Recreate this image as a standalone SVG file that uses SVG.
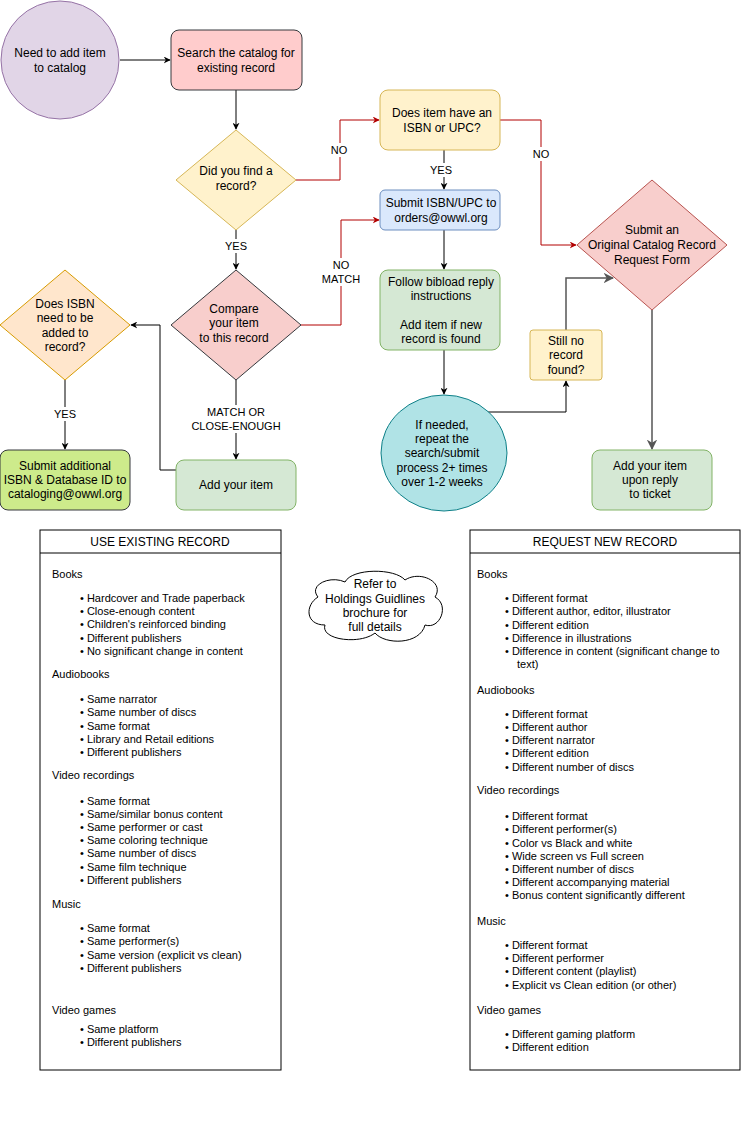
<svg xmlns="http://www.w3.org/2000/svg" width="746" height="1123" viewBox="0 0 746 1123">
<style>
text{font-family:"Liberation Sans",Arial,sans-serif;font-size:12px;fill:#000}
.c{text-anchor:middle}
.l{font-size:11px}
.lb{font-size:11px;text-anchor:middle}
.e{fill:none;stroke:#000;stroke-width:1}
.r{fill:none;stroke:#b20000;stroke-width:1}
.g{fill:none;stroke:#555;stroke-width:1.5}
</style>
<defs>
<marker id="a" viewBox="0 0 10 10" refX="9" refY="5" markerWidth="7" markerHeight="7" orient="auto"><path d="M0,0L10,5L0,10L3,5z" fill="#000"/></marker>
<marker id="ar" viewBox="0 0 10 10" refX="9" refY="5" markerWidth="7" markerHeight="7" orient="auto"><path d="M0,0L10,5L0,10L3,5z" fill="#b20000"/></marker>
<marker id="ag" viewBox="0 0 10 10" refX="9" refY="5" markerWidth="7" markerHeight="7" orient="auto"><path d="M0,0L10,5L0,10L3,5z" fill="#555"/></marker>
</defs>
<rect width="746" height="1123" fill="#fff"/>
<g id="connectors">
<path class="e" d="M120,60H170" marker-end="url(#a)"/>
<path class="e" d="M236,90V129" marker-end="url(#a)"/>
<path class="r" d="M296,180H340V120H379" marker-end="url(#ar)"/>
<rect x="329" y="143" width="20" height="14" fill="#fff"/><text class="lb" x="339" y="154">NO</text>
<path class="e" d="M444,150V189" marker-end="url(#a)"/>
<rect x="430" y="163" width="28" height="14" fill="#fff"/><text class="lb" x="441" y="174">YES</text>
<path class="r" d="M500,120H541V245H576" marker-end="url(#ar)"/>
<rect x="531" y="147" width="20" height="14" fill="#fff"/><text class="lb" x="541" y="158">NO</text>
<path class="e" d="M236,230V269" marker-end="url(#a)"/>
<rect x="222" y="239" width="28" height="14" fill="#fff"/><text class="lb" x="236" y="250">YES</text>
<path class="r" d="M301,325H341V220H379" marker-end="url(#ar)"/>
<rect x="320" y="258" width="42" height="28" fill="#fff"/><text class="lb" x="341" y="269">NO</text><text class="lb" x="341" y="283">MATCH</text>
<path class="e" d="M444,230V269" marker-end="url(#a)"/>
<path class="e" d="M444,350V394" marker-end="url(#a)"/>
<path class="e" d="M484,412H566V381" marker-end="url(#a)"/>
<path class="g" d="M566,330V278H613" marker-end="url(#ag)"/>
<path class="g" d="M652,310V449" marker-end="url(#ag)"/>
<path class="e" d="M236,380V459" marker-end="url(#a)"/>
<rect x="190" y="405" width="92" height="28" fill="#fff"/><text class="lb" x="236" y="416">MATCH OR</text><text class="lb" x="236" y="430">CLOSE-ENOUGH</text>
<path class="e" d="M176,470H160V325H131" marker-end="url(#a)"/>
<path class="e" d="M65,380V449" marker-end="url(#a)"/>
<rect x="51" y="407" width="28" height="14" fill="#fff"/><text class="lb" x="65" y="418">YES</text>
</g>
<g id="start"><ellipse cx="60" cy="60" rx="59" ry="59" fill="#e1d5e7" stroke="#9673a6"/><text class="c" x="60" y="57">Need to add item</text><text class="c" x="60" y="72">to catalog</text></g>
<g id="search"><rect x="171" y="30" width="131" height="60" rx="8" fill="#ffcccc" stroke="#36393d"/><text class="c" x="236" y="57">Search the catalog for</text><text class="c" x="236" y="72">existing record</text></g>
<g id="found"><path d="M236,130L296,180L236,230L176,180z" fill="#fff2cc" stroke="#d6b656"/><text class="c" x="236" y="175">Did you find a</text><text class="c" x="236" y="190">record?</text></g>
<g id="isbn"><rect x="380" y="90" width="120" height="60" rx="8" fill="#fff2cc" stroke="#d6b656"/><text class="c" x="442" y="117">Does item have an</text><text class="c" x="442" y="132">ISBN or UPC?</text></g>
<g id="submit"><rect x="380" y="190" width="120" height="40" rx="5" fill="#dae8fc" stroke="#6c8ebf"/><text class="c" x="441" y="207">Submit ISBN/UPC to</text><text class="c" x="441" y="222">orders@owwl.org</text></g>
<g id="original"><path d="M652,180L727,245L652,310L577,245z" fill="#f8cecc" stroke="#b85450"/><text class="c" x="652" y="234">Submit an</text><text class="c" x="652" y="249">Original Catalog Record</text><text class="c" x="652" y="264">Request Form</text></g>
<g id="compare"><path d="M236,270L301,325L236,380L171,325z" fill="#f8cecc" stroke="#36393d"/><text class="c" x="234" y="313">Compare</text><text class="c" x="234" y="327">your item</text><text class="c" x="234" y="342">to this record</text></g>
<g id="follow"><rect x="380" y="270" width="120" height="80" rx="8" fill="#d5e8d4" stroke="#82b366"/><text class="c" x="441" y="286">Follow bibload reply</text><text class="c" x="441" y="300">instructions</text><text class="c" x="441" y="329">Add item if new</text><text class="c" x="441" y="343">record is found</text></g>
<g id="repeat"><ellipse cx="444" cy="453" rx="63" ry="58" fill="#b0e3e6" stroke="#0e8088"/><text class="c" x="442" y="429">If needed,</text><text class="c" x="442" y="443">repeat the</text><text class="c" x="442" y="457">search/submit</text><text class="c" x="442" y="472">process 2+ times</text><text class="c" x="442" y="486">over 1-2 weeks</text></g>
<g id="still"><rect x="530" y="330" width="72" height="50" rx="3" fill="#fff2cc" stroke="#d6b656"/><text class="c" x="566" y="345">Still no</text><text class="c" x="566" y="359">record</text><text class="c" x="566" y="374">found?</text></g>
<g id="addreply"><rect x="592" y="450" width="120" height="60" rx="8" fill="#d5e8d4" stroke="#82b366"/><text class="c" x="650" y="470">Add your item</text><text class="c" x="650" y="484">upon reply</text><text class="c" x="650" y="498">to ticket</text></g>
<g id="additem"><rect x="176" y="460" width="120" height="50" rx="8" fill="#d5e8d4" stroke="#82b366"/><text class="c" x="236" y="489">Add your item</text></g>
<g id="needisbn"><path d="M65,270L130,325L65,380L0,325z" fill="#ffe6cc" stroke="#d79b00"/><text class="c" x="65" y="308">Does ISBN</text><text class="c" x="65" y="322">need to be</text><text class="c" x="65" y="337">added to</text><text class="c" x="65" y="351">record?</text></g>
<g id="additional"><rect x="0" y="450" width="130" height="60" rx="8" fill="#cdeb8b" stroke="#36393d"/><text class="c" x="65" y="470">Submit additional</text><text class="c" x="65" y="484">ISBN &amp;  Database ID to</text><text class="c" x="65" y="498">cataloging@owwl.org</text></g>
<g id="cloud"><path d="M318,597C308,585 330,575 345,582C352,568 395,568 405,580C420,570 445,582 435,597C450,605 440,630 425,625C420,645 385,645 375,633C360,645 320,640 325,625C305,625 305,605 318,597z" fill="#fff" stroke="#000"/><text class="c" x="375" y="588">Refer to</text><text class="c" x="375" y="603">Holdings Guidlines</text><text class="c" x="375" y="617">brochure for</text><text class="c" x="375" y="631">full details</text></g>
<g id="use-existing">
<rect x="40" y="530" width="241" height="540" fill="#fff" stroke="#000"/><path d="M40,553H281" stroke="#000"/>
<text class="c" x="160" y="546">USE EXISTING RECORD</text>
<g class="l">
<text class="l" x="52" y="578">Books</text>
<text class="l" x="80" y="602">•  Hardcover and Trade paperback</text>
<text class="l" x="80" y="615">•  Close-enough content</text>
<text class="l" x="80" y="628">•  Children's reinforced binding</text>
<text class="l" x="80" y="642">•  Different publishers</text>
<text class="l" x="80" y="655">•  No significant change in content</text>
<text class="l" x="52" y="678">Audiobooks</text>
<text class="l" x="80" y="703">•  Same narrator</text>
<text class="l" x="80" y="716">•  Same number of discs</text>
<text class="l" x="80" y="730">•  Same format</text>
<text class="l" x="80" y="743">•  Library and Retail editions</text>
<text class="l" x="80" y="756">•  Different publishers</text>
<text class="l" x="52" y="779">Video recordings</text>
<text class="l" x="80" y="805">•  Same format</text>
<text class="l" x="80" y="818">•  Same/similar bonus content</text>
<text class="l" x="80" y="831">•  Same performer or cast</text>
<text class="l" x="80" y="844">•  Same coloring technique</text>
<text class="l" x="80" y="857">•  Same number of discs</text>
<text class="l" x="80" y="871">•  Same film technique</text>
<text class="l" x="80" y="884">•  Different publishers</text>
<text class="l" x="52" y="908">Music</text>
<text class="l" x="80" y="932">•  Same format</text>
<text class="l" x="80" y="945">•  Same performer(s)</text>
<text class="l" x="80" y="959">•  Same version (explicit vs clean)</text>
<text class="l" x="80" y="972">•  Different publishers</text>
<text class="l" x="52" y="1014">Video games</text>
<text class="l" x="80" y="1033">•  Same platform</text>
<text class="l" x="80" y="1046">•  Different publishers</text>
</g></g>
<g id="request-new">
<rect x="470" y="530" width="270" height="540" fill="#fff" stroke="#000"/><path d="M470,553H740" stroke="#000"/>
<text class="c" x="605" y="546">REQUEST NEW RECORD</text>
<text class="l" x="477" y="578">Books</text>
<text class="l" x="505" y="602">•  Different format</text>
<text class="l" x="505" y="615">•  Different author, editor, illustrator</text>
<text class="l" x="505" y="629">•  Different edition</text>
<text class="l" x="505" y="642">•  Difference in illustrations</text>
<text class="l" x="505" y="655">•  Difference in content (significant change to</text>
<text class="l" x="517" y="668">text)</text>
<text class="l" x="477" y="694">Audiobooks</text>
<text class="l" x="505" y="718">•  Different format</text>
<text class="l" x="505" y="731">•  Different author</text>
<text class="l" x="505" y="744">•  Different narrator</text>
<text class="l" x="505" y="757">•  Different edition</text>
<text class="l" x="505" y="771">•  Different number of discs</text>
<text class="l" x="477" y="794">Video recordings</text>
<text class="l" x="505" y="820">•  Different format</text>
<text class="l" x="505" y="833">•  Different performer(s)</text>
<text class="l" x="505" y="847">•  Color vs Black and white</text>
<text class="l" x="505" y="860">•  Wide screen vs Full screen</text>
<text class="l" x="505" y="873">•  Different number of discs</text>
<text class="l" x="505" y="886">•  Different accompanying material</text>
<text class="l" x="505" y="899">•  Bonus content significantly different</text>
<text class="l" x="477" y="925">Music</text>
<text class="l" x="505" y="949">•  Different format</text>
<text class="l" x="505" y="962">•  Different performer</text>
<text class="l" x="505" y="975">•  Different content (playlist)</text>
<text class="l" x="505" y="989">•  Explicit vs Clean edition (or other)</text>
<text class="l" x="477" y="1014">Video games</text>
<text class="l" x="505" y="1038">•  Different gaming platform</text>
<text class="l" x="505" y="1051">•  Different edition</text>
</g>
</svg>
